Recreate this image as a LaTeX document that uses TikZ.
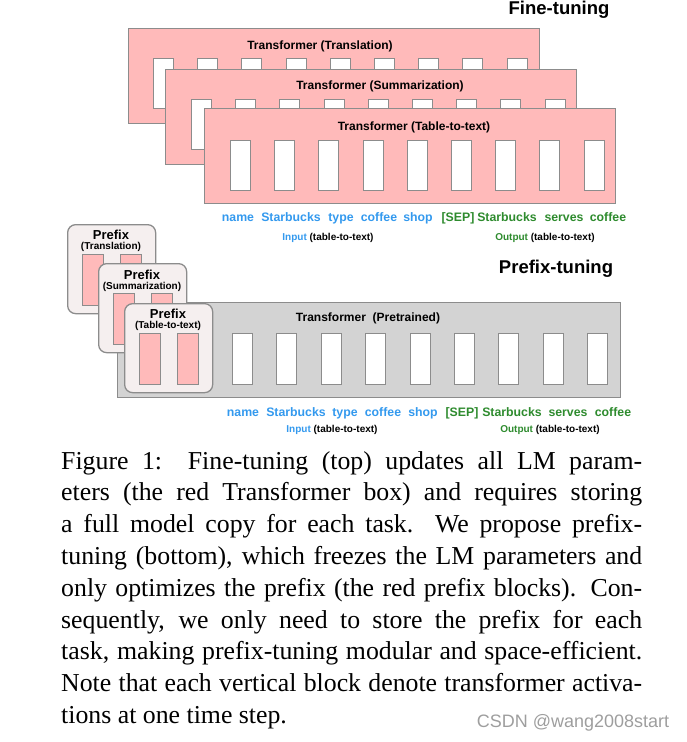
\documentclass[tikz,border=0pt]{standalone}
\usepackage{fontspec}
\setmainfont{Liberation Serif}
\setsansfont{Liberation Sans}

\definecolor{tunepink}{HTML}{FFBABA}
\definecolor{framegray}{HTML}{8C8C8C}
\definecolor{lmgray}{HTML}{D3D3D3}
\definecolor{prefixbg}{HTML}{F5EFEF}
\definecolor{inblue}{HTML}{3399EE}
\definecolor{outgreen}{HTML}{2E8B2E}

\begin{document}
\begin{tikzpicture}[x=1pt, y=-1pt,
    bigbox/.style={draw=framegray, line width=1.3pt, anchor=north west, inner sep=0pt,
      minimum width=411pt, minimum height=95pt},
    actblock/.style={draw=framegray, line width=1pt, fill=white, anchor=north west, inner sep=0pt,
      minimum width=20pt, minimum height=50pt},
    prefbox/.style={draw=framegray, line width=1.3pt, fill=prefixbg, rounded corners=8pt,
      anchor=north west, inner sep=0pt, minimum width=88pt, minimum height=89pt},
    prefblock/.style={actblock, fill=tunepink, minimum width=21pt, minimum height=51pt},
    boxtitle/.style={font=\sffamily\bfseries\fontsize{12}{14}\selectfont, inner sep=0pt},
    preftitle/.style={font=\sffamily\bfseries\fontsize{13}{15}\selectfont, inner sep=0pt},
    prefsub/.style={font=\sffamily\bfseries\fontsize{10}{12}\selectfont, inner sep=0pt},
    inword/.style={font=\sffamily\bfseries\fontsize{12.3}{14}\selectfont, text=inblue,
      inner sep=0pt, anchor=base},
    outword/.style={inword, text=outgreen},
    ioname/.style={font=\sffamily\bfseries\fontsize{10}{12}\selectfont, inner sep=0pt, anchor=base},
    heading/.style={font=\sffamily\bfseries\fontsize{18.5}{20}\selectfont, inner sep=0pt}]

    \useasboundingbox (0,0) rectangle (686,742);

    % Fine-tuning: one full transformer copy per task
    \node[heading] (ft) at (559,10) {Fine-tuning};

    \node[bigbox, fill=tunepink] (t1) at (128,28) {};
    \node[boxtitle] (t1t) at (320,46) {Transformer (Translation)};
    \foreach \i in {0,...,8}
        \node[actblock] (t1b\i) at (153+44.2*\i, 58) {};

    \node[bigbox, fill=tunepink] (t2) at (165,69) {};
    \node[boxtitle] (t2t) at (380,86) {Transformer (Summarization)};
    \foreach \i in {0,...,8}
        \node[actblock] (t2b\i) at (191+44.2*\i, 99) {};

    \node[bigbox, fill=tunepink] (t3) at (204,108) {};
    \node[boxtitle] (t3t) at (414,127) {Transformer (Table-to-text)};
    \foreach \i in {0,...,8}
        \node[actblock] (t3b\i) at (230+44.2*\i, 140) {};

    % Words under the fine-tuned model
    \foreach \x/\w [count=\n] in {238/name, 291/Starbucks, 341/type, 379/coffee, 418/shop}
        \node[inword] (a\n) at (\x,221.5) {\w};
    \foreach \x/\w [count=\n] in {458/{[SEP]}, 507/Starbucks, 564/serves, 608/coffee}
        \node[outword] (b\n) at (\x,221.5) {\w};
    \node[ioname] (ain) at (328,240.6) {\textcolor{inblue}{Input} (table-to-text)};
    \node[ioname] (aout) at (545,240.6) {\textcolor{outgreen}{Output} (table-to-text)};

    % Prefix-tuning: one frozen transformer, a prefix per task
    \node[heading] (pt) at (556,269) {Prefix-tuning};

    \node[bigbox, fill=lmgray, minimum width=503pt] (lm) at (117,302) {};
    \node[boxtitle] (lmt) at (368,318) {Transformer\ \ (Pretrained)};
    \foreach \i in {0,...,8}
        \node[actblock, minimum height=51pt] (lmb\i) at (232+44.4*\i, 333) {};

    \node[prefbox] (p1) at (67,224) {};
    \node[preftitle] (p1t) at (111,235) {Prefix};
    \node[prefsub] (p1s) at (111,247) {(Translation)};
    \node[prefblock] (p1a) at (82,254) {};
    \node[prefblock] (p1b) at (120,254) {};

    \node[prefbox] (p2) at (98,263) {};
    \node[preftitle] (p2t) at (142,275) {Prefix};
    \node[prefsub] (p2s) at (142,287) {(Summarization)};
    \node[prefblock] (p2a) at (113,293) {};
    \node[prefblock] (p2b) at (151,293) {};

    \node[prefbox] (p3) at (124,303) {};
    \node[preftitle] (p3t) at (168,314) {Prefix};
    \node[prefsub] (p3s) at (168,326) {(Table-to-text)};
    \node[prefblock] (p3a) at (139,333) {};
    \node[prefblock] (p3b) at (177,333) {};

    % Words under the pretrained model
    \foreach \x/\w [count=\n] in {243/name, 296/Starbucks, 345/type, 383/coffee, 423/shop}
        \node[inword] (c\n) at (\x,416.5) {\w};
    \foreach \x/\w [count=\n] in {462/{[SEP]}, 512/Starbucks, 568/serves, 613/coffee}
        \node[outword] (d\n) at (\x,416.5) {\w};
    \node[ioname] (cin) at (332,432.6) {\textcolor{inblue}{Input} (table-to-text)};
    \node[ioname] (cout) at (550,432.6) {\textcolor{outgreen}{Output} (table-to-text)};

    % The caption
    \node[anchor=north west, inner sep=0pt, text width=581pt, align=justify,
          font=\fontsize{25.8}{31.8}\selectfont] (cap) at (61,451) {%
        \hyphenpenalty=10000 \exhyphenpenalty=10000
        Figure 1:\quad Fine-tuning (top) updates all LM param-\linebreak
        eters (the red Transformer box) and requires storing\linebreak
        a full model copy for each task.  We propose prefix-\linebreak
        tuning (bottom), which freezes the LM parameters and\linebreak
        only optimizes the prefix (the red prefix blocks). Con-\linebreak
        sequently, we only need to store the prefix for each\linebreak
        task, making prefix-tuning modular and space-efficient.\linebreak
        Note that each vertical block denote transformer activa-\linebreak
        tions at one time step.};

    \node[font=\sffamily\fontsize{18}{20}\selectfont, text=black!38, inner sep=0pt] (mark) at (573,723) {CSDN @wang2008start};

\end{tikzpicture}
\end{document}
